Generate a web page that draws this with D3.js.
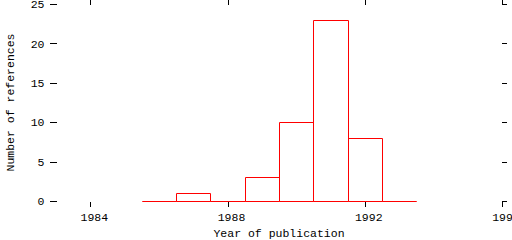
<!DOCTYPE html>
<html>
<head>
<meta charset="utf-8">
<script src="https://cdn.jsdelivr.net/npm/d3@7"></script>
<style>
  html, body { margin: 0; padding: 0; background: #fff; }
  svg { display: block; }
  text { font-family: "Liberation Mono", "DejaVu Sans Mono", monospace; font-size: 11.5px; fill: #000; }
</style>
</head>
<body>
<svg id="chart" width="512" height="240"></svg>
<script>
// Data: number of references per publication year
const years = [1986, 1987, 1988, 1989, 1990, 1991, 1992, 1993];
const counts = [0, 1, 0, 3, 10, 23, 8, 0];
const xTicks = [1984, 1988, 1992, 1996];
const yTicks = [0, 5, 10, 15, 20, 25];
const xDomain = [1983, 1996];
const yDomain = [0, 25];
const xTitle = "Year of publication";
const yTitle = "Number of references";

const svg = d3.select("#chart");
const x = d3.scaleLinear().domain(xDomain).range([56, 502]);
const y = d3.scaleLinear().domain(yDomain).range([201, 4]);
const px = v => Math.round(v) + 0.5;

// Histogram boxes (outlines)
const g = svg.append("g").attr("fill", "none").attr("stroke", "#ff0000").attr("stroke-width", 1);
years.forEach((yr, i) => {
  const l = px(x(yr - 0.5)), r = px(x(yr + 0.5));
  const b = px(y(0)), t = px(y(counts[i]));
  g.append("path").attr("d", `M${l},${b}V${t}H${r}V${b}Z`);
});

// Ticks (outward, on all four sides)
const ax = svg.append("g").attr("stroke", "#000").attr("stroke-width", 1);
const x0 = x.range()[0], x1 = x.range()[1];
const yb = y.range()[0], yt = y.range()[1];
xTicks.forEach(t => {
  const xx = px(x(t));
  ax.append("line").attr("x1", xx).attr("x2", xx).attr("y1", yb + 1).attr("y2", yb + 6);
  ax.append("line").attr("x1", xx).attr("x2", xx).attr("y1", yt + 1).attr("y2", 0);
  svg.append("text").attr("x", x(t) + 4).attr("y", 221).attr("text-anchor", "middle").text(t);
});
yTicks.forEach(t => {
  const yy = px(y(t));
  ax.append("line").attr("x1", 50).attr("x2", x0 + 1).attr("y1", yy).attr("y2", yy);
  ax.append("line").attr("x1", x1).attr("x2", x1 + 5).attr("y1", yy).attr("y2", yy);
  svg.append("text").attr("x", 44.5).attr("y", y(t)).attr("dy", "0.36em")
    .attr("text-anchor", "end").text(t);
});

// Axis titles
svg.append("text").attr("x", (x0 + x1) / 2).attr("y", 237)
  .attr("text-anchor", "middle").text(xTitle);
svg.append("text").attr("transform", `translate(13.5,${(yb + yt) / 2}) rotate(-90)`)
  .attr("text-anchor", "middle").text(yTitle);
</script>
</body>
</html>
